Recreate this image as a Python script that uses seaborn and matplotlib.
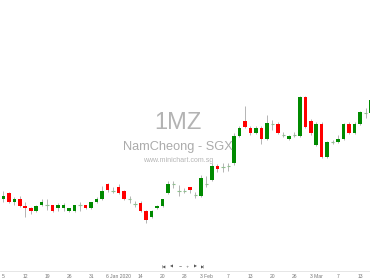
import numpy as np
import pandas as pd
import matplotlib
matplotlib.use("Agg")
import matplotlib.pyplot as plt
import seaborn as sns

# OHLC values (arbitrary price units)
opens = [71.7, 77.7, 68.7, 71.7, 65.3, 62.7, 59.7, 65.7, 65.7, 65.7,
         62.7, 62.7, 59.7, 59.7, 65.7, 65.7, 62.7, 68.7, 71.7, 86.7,
         80.5, 83.7, 80.3, 71.7, 66.7, 68.3, 60.0, 54.3, 62.7, 65.3,
         77.7, 86.7, 80.3, 80.3, 83.7, 76.0, 75.0, 87.0, 91.0, 105.0,
         104.0, 105.0, 107.7, 135.0, 150.3, 143.3, 138.3, 143.3, 132.0, 147.0,
         147.0, 136.0, 132.3, 136.0, 135.0, 174.3, 150.3, 126.0, 147.0, 114.3,
         128.7, 129.3, 132.0, 147.0, 138.3, 147.0, 158.0, 157.7]
closes = [75.0, 68.7, 71.7, 65.3, 62.7, 60.0, 65.3, 68.7, 65.7, 59.7,
          65.7, 65.7, 62.7, 65.7, 65.7, 62.7, 68.7, 71.7, 80.3, 81.0,
          80.5, 77.7, 72.0, 71.7, 66.7, 60.0, 51.0, 60.0, 65.3, 71.7,
          86.7, 86.7, 80.3, 80.3, 81.0, 76.0, 92.7, 87.0, 105.0, 101.7,
          104.0, 105.0, 135.0, 143.3, 144.3, 138.3, 143.3, 132.0, 147.7, 147.0,
          138.3, 136.0, 135.0, 136.0, 174.3, 144.3, 137.7, 147.0, 114.3, 128.7,
          128.7, 132.0, 147.0, 138.3, 147.0, 158.7, 158.0, 171.0]
highs = [80.3, 79.0, 74.3, 75.0, 68.7, 64.0, 66.0, 72.0, 71.7, 66.5,
         67.7, 67.7, 63.5, 66.5, 68.7, 66.5, 69.5, 74.3, 85.0, 88.3,
         84.3, 86.7, 81.0, 75.0, 70.0, 70.3, 60.7, 60.7, 66.0, 72.5,
         90.0, 90.0, 86.0, 83.0, 84.5, 79.3, 96.0, 95.0, 108.0, 106.7,
         108.0, 108.0, 138.0, 145.0, 165.0, 145.0, 145.0, 145.0, 156.0, 151.0,
         149.0, 139.0, 136.0, 139.0, 175.0, 175.0, 152.0, 149.0, 149.0, 130.0,
         131.0, 136.0, 148.0, 149.0, 149.0, 160.0, 163.0, 173.0]
lows = [69.3, 68.0, 66.0, 64.5, 53.7, 56.7, 59.0, 65.0, 61.0, 59.0,
        59.7, 60.3, 59.0, 59.0, 59.7, 62.0, 62.0, 68.0, 71.0, 78.7,
        77.7, 77.0, 71.3, 68.3, 64.3, 59.3, 47.7, 53.5, 62.0, 64.5,
        77.0, 82.7, 75.0, 78.5, 77.7, 73.3, 74.3, 84.3, 90.0, 99.0,
        99.0, 100.0, 106.0, 134.0, 143.0, 136.0, 137.0, 127.0, 131.0, 141.0,
        137.0, 134.0, 131.5, 134.0, 134.0, 143.0, 136.0, 125.0, 113.5, 113.5,
        127.0, 128.0, 131.0, 137.0, 137.0, 146.0, 153.0, 157.0]

tick_pos = [0, 4, 8, 12, 16, 21, 25, 29, 33, 37, 41, 45, 49, 53, 57, 61, 65]
tick_labels = ["5", "12", "19", "26", "31", "6 Jan 2020", "14", "20", "28",
               "3 Feb", "7", "13", "20", "26", "3 Mar", "7", "13"]

df = pd.DataFrame({"open": opens, "close": closes, "high": highs, "low": lows})
df["idx"] = np.arange(len(df))

sns.set_theme(style="white")
plt.rcParams["font.family"] = ["Liberation Sans", "DejaVu Sans"]

fig = plt.figure(figsize=(3.7, 2.78), dpi=100)
ax = fig.add_axes([0, 7 / 278, 1, 1 - 7 / 278])

GREEN = "#008a00"
RED = "#ff0000"
WICK = "#a8a8a8"
DOJI = "#8fbf8f"

up = df[df.close > df.open]
dn = df[df.close < df.open]
dj = df[df.close == df.open]

ax.vlines(df.idx, df.low, df.high, color=WICK, linewidth=0.6, zorder=2)
ax.bar(up.idx, up.close - up.open, bottom=up.open, width=0.64,
       color=GREEN, linewidth=0, zorder=3)
ax.bar(dn.idx, dn.open - dn.close, bottom=dn.close, width=0.64,
       color=RED, linewidth=0, zorder=3)
ax.hlines(dj.open, dj.idx - 0.32, dj.idx + 0.32, color=DOJI, linewidth=0.8, zorder=3)

ax.set_xlim(-0.6, 66.79)
ax.set_ylim(0, 271)
ax.set_yticks([])
ax.set_xticks(tick_pos)
ax.set_xticklabels(tick_labels, fontsize=3.6, color="#777777")
ax.tick_params(axis="x", length=1.5, width=0.4, color="#cccccc", pad=0.8)
for s in ["top", "left", "right"]:
    ax.spines[s].set_visible(False)
ax.spines["bottom"].set_color("#e2e2e2")
ax.spines["bottom"].set_linewidth(0.6)

# watermark
fig.text(178 / 370, 1 - 123 / 278, "1MZ", ha="center", va="center",
         fontsize=17, color="#b3b3b3", zorder=0)
fig.text(178 / 370, 1 - 147 / 278, "NamCheong - SGX", ha="center", va="center",
         fontsize=9.2, color="#ababab", zorder=0)
fig.text(178 / 370, 1 - 160 / 278, "www.minichart.com.sg", ha="center", va="center",
         fontsize=5, color="#b5b5b5", zorder=0)

# navigation controls
nav = ["|◀", "◀", "−", "+", "▶", "▶|"]
nav_x = [164, 171.7, 180, 187.7, 195, 203.3]
for t, x in zip(nav, nav_x):
    fig.text(x / 370, 1 - 267 / 278, t, ha="center", va="center",
             fontsize=2.8, color="#555555", family=["DejaVu Sans"])

fig.savefig("out.png", dpi=100)
